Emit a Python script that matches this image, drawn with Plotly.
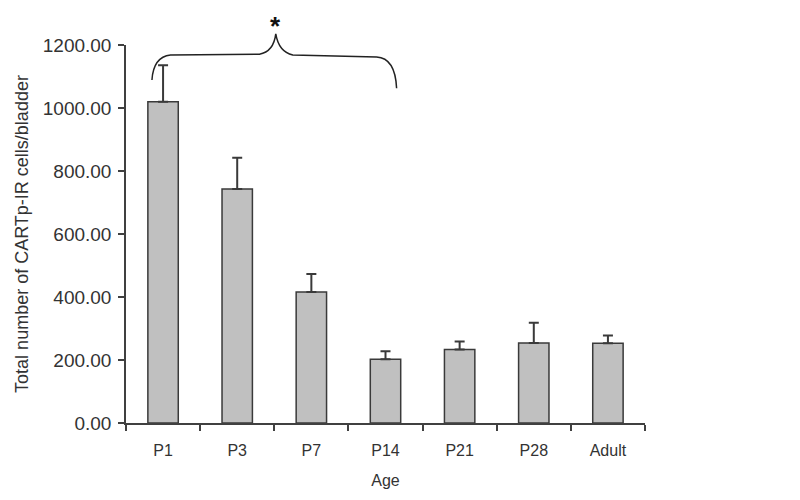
import plotly.graph_objects as go

categories = ["P1", "P3", "P7", "P14", "P21", "P28", "Adult"]
means = [1020, 743, 416, 202, 233, 254, 253]
sem = [116, 99, 57, 26, 26, 64, 25]
y_ticks = [0, 200, 400, 600, 800, 1000, 1200]

Y_MAX = 1200
N = len(categories)

def to_paper(idx, val):
    return ((idx + 0.5) / N, val / Y_MAX)

# brace over P1..P7 (category index, value units)
brace_pts = {
    "start": (-0.15, 1089), "c1": (-0.13, 1162), "a1": (0.10, 1168),
    "l1": (1.30, 1171), "c2": (1.49, 1178), "peak": (1.52, 1235),
    "c3": (1.56, 1178), "a2": (1.75, 1168), "l2": (2.88, 1162),
    "c4": (3.13, 1159), "end": (3.15, 1063),
}
P = {k: to_paper(*v) for k, v in brace_pts.items()}
def f(p):
    return f"{p[0]:.4f},{p[1]:.4f}"
path = (f"M {f(P['start'])} Q {f(P['c1'])} {f(P['a1'])} L {f(P['l1'])} "
        f"Q {f(P['c2'])} {f(P['peak'])} Q {f(P['c3'])} {f(P['a2'])} "
        f"L {f(P['l2'])} Q {f(P['c4'])} {f(P['end'])}")

fig = go.Figure()
fig.add_trace(go.Bar(
    x=categories, y=means,
    marker=dict(color="#c0c0c0", line=dict(color="#3a3a3a", width=1.5)),
    error_y=dict(type="data", symmetric=False, array=sem,
                 arrayminus=[0] * N, color="#3a3a3a", thickness=2, width=5),
    width=0.41,
))

fig.add_shape(type="path", path=path, xref="paper", yref="paper",
              line=dict(color="#222", width=1.5))
ast = to_paper(1.52, 1312)
fig.add_annotation(x=ast[0], y=ast[1], xref="paper", yref="paper",
                   text="<b>*</b>", showarrow=False, font=dict(size=26, color="#111"),
                   yanchor="top", xanchor="center", borderpad=0)

fig.update_layout(
    width=792, height=492,
    margin=dict(l=118, r=155, t=37, b=77),
    paper_bgcolor="white", plot_bgcolor="white",
    showlegend=False,
    font=dict(family="Liberation Sans, Arial, sans-serif", size=15, color="#333"),
    xaxis=dict(
        title=dict(text="Age", font=dict(size=16, color="#333"), standoff=17),
        automargin=False,
        showline=True, linecolor="#404040", linewidth=1.5,
        ticks="outside", ticklen=6, tickcolor="#404040", tickwidth=1.5,
        tickson="boundaries", showgrid=False, range=[-0.5, N - 0.5],
        tickfont=dict(size=16, color="#333"), ticklabelstandoff=12,
    ),
    yaxis=dict(
        title=dict(text="Total number of CARTp-IR cells/bladder",
                   font=dict(size=18, color="#333"), standoff=9),
        automargin=False,
        range=[0, Y_MAX], tickvals=y_ticks, tickformat=".2f",
        showline=True, linecolor="#404040", linewidth=1.5,
        ticks="outside", ticklen=6, tickcolor="#404040", tickwidth=1.5,
        showgrid=False, zeroline=False,
        tickfont=dict(size=19, color="#333"), ticklabelstandoff=3,
    ),
)

fig.write_html("out.html")
